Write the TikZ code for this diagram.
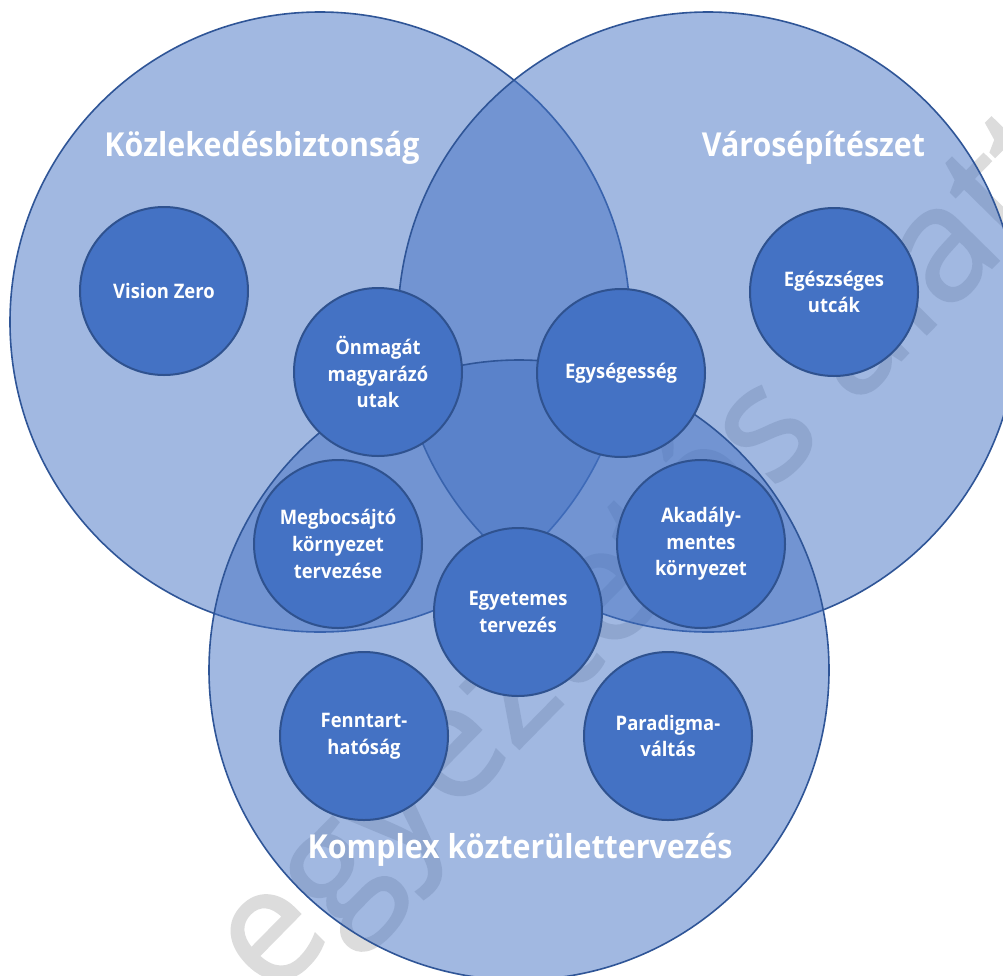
\documentclass[tikz,border=0pt]{standalone}
\usepackage{fontspec}
\setmainfont{Open Sans}[FakeStretch=0.92]
\newfontfamily\wmfont{Open Sans}[FakeBold=1.4]
\definecolor{venn}{HTML}{4472C4}
\definecolor{vennedge}{HTML}{2F5597}
\definecolor{bubbleedge}{HTML}{2F528F}
\definecolor{wmgray}{RGB}{220,220,220}

\tikzset{
  area/.style={circle, minimum size=620pt, inner sep=0pt, outer sep=0pt,
    fill=venn, fill opacity=0.5, draw=vennedge, draw opacity=1, line width=1.6pt},
  bubble/.style={circle, minimum size=168pt, inner sep=0pt,
    fill=venn, draw=bubbleedge, line width=2pt, align=center, text=white,
    font=\bfseries\fontsize{20}{26.7}\selectfont},
  heading/.style={anchor=base, inner sep=0pt, text=white,
    font=\bfseries\fontsize{33}{40}\selectfont},
  watermark/.style={rotate=45.5, anchor=base west, inner sep=0pt, text=wmgray,
    font=\wmfont\mdseries\fontsize{160}{160}\selectfont},
}

\begin{document}
\begin{tikzpicture}[x=1pt,y=-1pt]
  \clip (0,0) rectangle (1003,975);
  \fill[white] (0,0) rectangle (1003,975);

  % page watermark, behind the diagram
  \node[watermark] (mark) at (175,1099) {o egyeztetés alatt};

  % the three overlapping fields
  \node[area] (safety) at (320,322) {};
  \node[area] (urban)  at (708,322) {};
  \node[area] (public) at (519,670) {};

  \node[heading] (safetytitle) at (262,156) {Közlekedésbiztonság};
  \node[heading] (urbantitle)  at (813.5,156) {Városépítészet};
  \node[heading] (publictitle) at (520,858) {Komplex közterülettervezés};

  % topics
  \node[bubble] (vision)    at (164,291) {Vision Zero};
  \node[bubble] (selfexp)   at (378,372) {Önmagát\\magyarázó\\utak};
  \node[bubble] (unity)     at (621,373) {Egységesség};
  \node[bubble] (healthy)   at (834,292) {Egészséges\\utcák};
  \node[bubble] (forgiving) at (338,544) {Megbocsájtó\\környezet\\tervezése};
  \node[bubble] (barrier)   at (701,544) {Akadály-\\mentes\\környezet};
  \node[bubble] (universal) at (518,612) {Egyetemes\\tervezés};
  \node[bubble] (sustain)   at (364,736) {Fenntart-\\hatóság};
  \node[bubble] (paradigm)  at (668,736) {Paradigma-\\váltás};
\end{tikzpicture}
\end{document}
